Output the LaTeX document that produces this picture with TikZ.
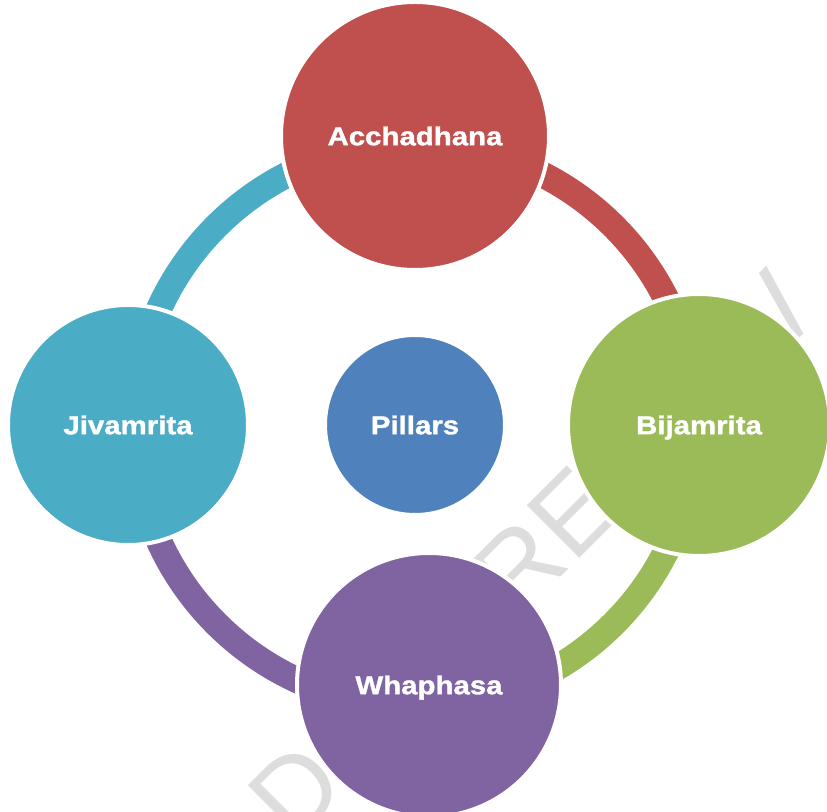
\documentclass[tikz,border=0pt]{standalone}
\usepackage{fontspec}
\newfontfamily\lblfont{Liberation Sans}[FakeStretch=1.14,FakeBold=1.3]
\newfontfamily\wmfont{Liberation Sans}
\definecolor{acRed}{HTML}{C0504D}
\definecolor{bjGreen}{HTML}{9BBB59}
\definecolor{whPurple}{HTML}{8064A2}
\definecolor{jvCyan}{HTML}{4BACC6}
\definecolor{plBlue}{HTML}{4F81BD}
\definecolor{wmGray}{HTML}{DDDDDD}
\begin{document}
\begin{tikzpicture}[x=1pt,y=1pt,
  bubble/.style={circle,draw=white,line width=4pt,inner sep=0pt,text=white,
    font=\lblfont\bfseries\fontsize{25.8}{30}\selectfont,
    text height=18.5pt,text depth=0pt,align=center},
  ringarc/.style={line width=26pt},
  wmark/.style={text=wmGray,font=\wmfont\fontsize{108}{120}\selectfont,
    rotate=45,anchor=base west,inner sep=0pt,outer sep=0pt}]
\useasboundingbox (0,0) rectangle (827,811);
\clip (0,0) rectangle (827,811);
% watermark
\node[wmark] (wmd) at (294.5,-33) {D};
\node[wmark] (wmp) at (467,140) {PREVIEW};
% ring centre
\coordinate (O) at (415,386);
% arcs
\draw[ringarc,jvCyan]   ([shift={(180:281)}]O) arc[start angle=180,end angle=90,radius=281];
\draw[ringarc,acRed]    ([shift={(90:281)}]O)  arc[start angle=90,end angle=0,radius=281];
\draw[ringarc,bjGreen]  ([shift={(0:281)}]O)   arc[start angle=0,end angle=-90,radius=281];
\draw[ringarc,whPurple] ([shift={(-90:281)}]O) arc[start angle=-90,end angle=-180,radius=281];
% circles
\node[bubble,fill=acRed,minimum size=268pt]    (A) at (415,675) {Acchadhana};
\node[bubble,fill=bjGreen,minimum size=262pt]  (B) at (699,386) {Bijamrita};
\node[bubble,fill=whPurple,minimum size=264pt] (W) at (429,126) {Whaphasa};
\node[bubble,fill=jvCyan,minimum size=240pt]   (J) at (128,386) {Jivamrita};
\node[bubble,fill=plBlue,minimum size=180pt]   (P) at (415,386) {Pillars};
\end{tikzpicture}
\end{document}
